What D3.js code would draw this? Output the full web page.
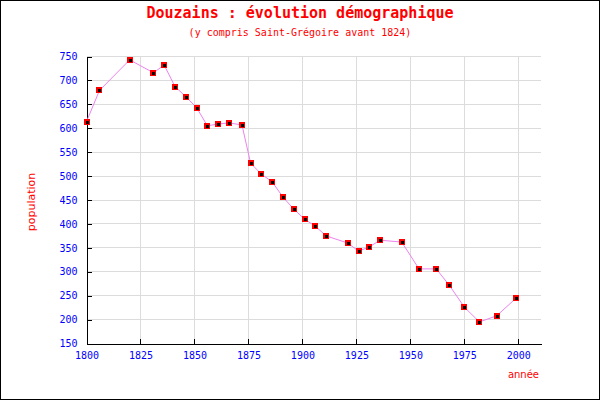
<!DOCTYPE html>
<html><head><meta charset="utf-8">
<script src="https://cdn.jsdelivr.net/npm/d3@7"></script>
<style>
body{margin:0;background:#fff;}
svg{display:block;}
</style></head>
<body>
<svg id="chart" width="600" height="400"></svg>
<script>
const years = [1800,1806,1820,1831,1836,1841,1846,1851,1856,1861,1866,1872,1876,1881,1886,1891,1896,1901,1906,1911,1921,1926,1931,1936,1946,1954,1962,1968,1975,1982,1990,1999];
const population = [614,679,743,716,732,687,666,643,605,609,611,607,527,504,488,456,431,410,395,375,360,343,352,366,362,306,306,272,226,195,208,245];
const xTicks = [1800,1825,1850,1875,1900,1925,1950,1975,2000];
const yTicks = [150,200,250,300,350,400,450,500,550,600,650,700,750];
const title = "Douzains : évolution démographique";
const subtitle = "(y compris Saint-Grégoire avant 1824)";
const xLabel = "année";
const yLabel = "population";

const svg = d3.select("#chart");
const W = 600, H = 400;
const pLeft = 86.5, pRight = 541, pTop = 56.5, pBottom = 343.5;

svg.append("rect").attr("x",0.5).attr("y",0.5).attr("width",W-1).attr("height",H-1)
  .attr("fill","#fff").attr("stroke","#000").attr("stroke-width",1);

const x = d3.scaleLinear().domain([1800, 2010.5]).range([pLeft, pRight]);
const y = d3.scaleLinear().domain([150, 750]).range([pBottom, pTop]);

// grid
const g = svg.append("g").attr("shape-rendering","crispEdges");
g.selectAll("line.vg").data(xTicks.slice(1)).join("line")
  .attr("x1", d=>x(d)).attr("x2", d=>x(d)).attr("y1", pTop).attr("y2", pBottom)
  .attr("stroke","#dcdcdc");
g.selectAll("line.hg").data(yTicks.slice(1)).join("line")
  .attr("x1", pLeft).attr("x2", pRight).attr("y1", d=>y(d)).attr("y2", d=>y(d))
  .attr("stroke","#dcdcdc");

// axes
const xAxis = d3.axisBottom(x).tickValues(xTicks).tickFormat(d3.format("d"))
  .tickSizeInner(-5).tickSizeOuter(0).tickPadding(8);
const yAxis = d3.axisLeft(y).tickValues(yTicks).tickFormat(d3.format("d"))
  .tickSizeInner(-5).tickSizeOuter(0).tickPadding(8);

const gx = svg.append("g").attr("transform",`translate(0,${pBottom})`).call(xAxis);
const gy = svg.append("g").attr("transform",`translate(${pLeft},0)`).call(yAxis);
[gx,gy].forEach(a=>{
  a.attr("shape-rendering","crispEdges");
  a.selectAll("path.domain").attr("stroke","#000");
  a.selectAll(".tick line").attr("stroke","#000");
  a.selectAll(".tick text").attr("fill","#0000ff")
    .style("font-family","'DejaVu Sans Mono', monospace").style("font-size","10px");
});
gy.selectAll(".tick text").attr("dx","-1");

// line
const line = d3.line().x((d,i)=>x(years[i])).y(d=>y(d));
svg.append("path").datum(population).attr("d", line)
  .attr("fill","none").attr("stroke","#ee82ee").attr("stroke-width",1);

// markers
const m = svg.append("g").attr("shape-rendering","crispEdges");
m.selectAll("rect.o").data(population).join("rect")
  .attr("x",(d,i)=>Math.round(x(years[i]))-3).attr("y",d=>Math.round(y(d))-3)
  .attr("width",6).attr("height",6).attr("fill","#ff0000");
m.selectAll("rect.i").data(population).join("rect")
  .attr("x",(d,i)=>Math.round(x(years[i]))-1.5).attr("y",d=>Math.round(y(d))-1.5)
  .attr("width",3).attr("height",3).attr("fill","#000");

// titles
svg.append("text").attr("x",300).attr("y",18).attr("text-anchor","middle")
  .attr("fill","#ff0000").style("font-family","'DejaVu Sans Mono', monospace")
  .style("font-size","15px").style("font-weight","bold").text(title);
svg.append("text").attr("x",300).attr("y",36).attr("text-anchor","middle")
  .attr("fill","#ff0000").style("font-family","'DejaVu Sans Mono', monospace")
  .style("font-size","10px").text(subtitle);
svg.append("text").attr("x",539).attr("y",378).attr("text-anchor","end")
  .attr("fill","#ff0000").style("font-family","'DejaVu Sans', sans-serif")
  .style("font-size","10px").text(xLabel);
svg.append("text").attr("transform","translate(35,202) rotate(-90)").attr("text-anchor","middle")
  .attr("fill","#ff0000").style("font-family","'DejaVu Sans', sans-serif")
  .style("font-size","11px").text(yLabel);
</script>
</body></html>
